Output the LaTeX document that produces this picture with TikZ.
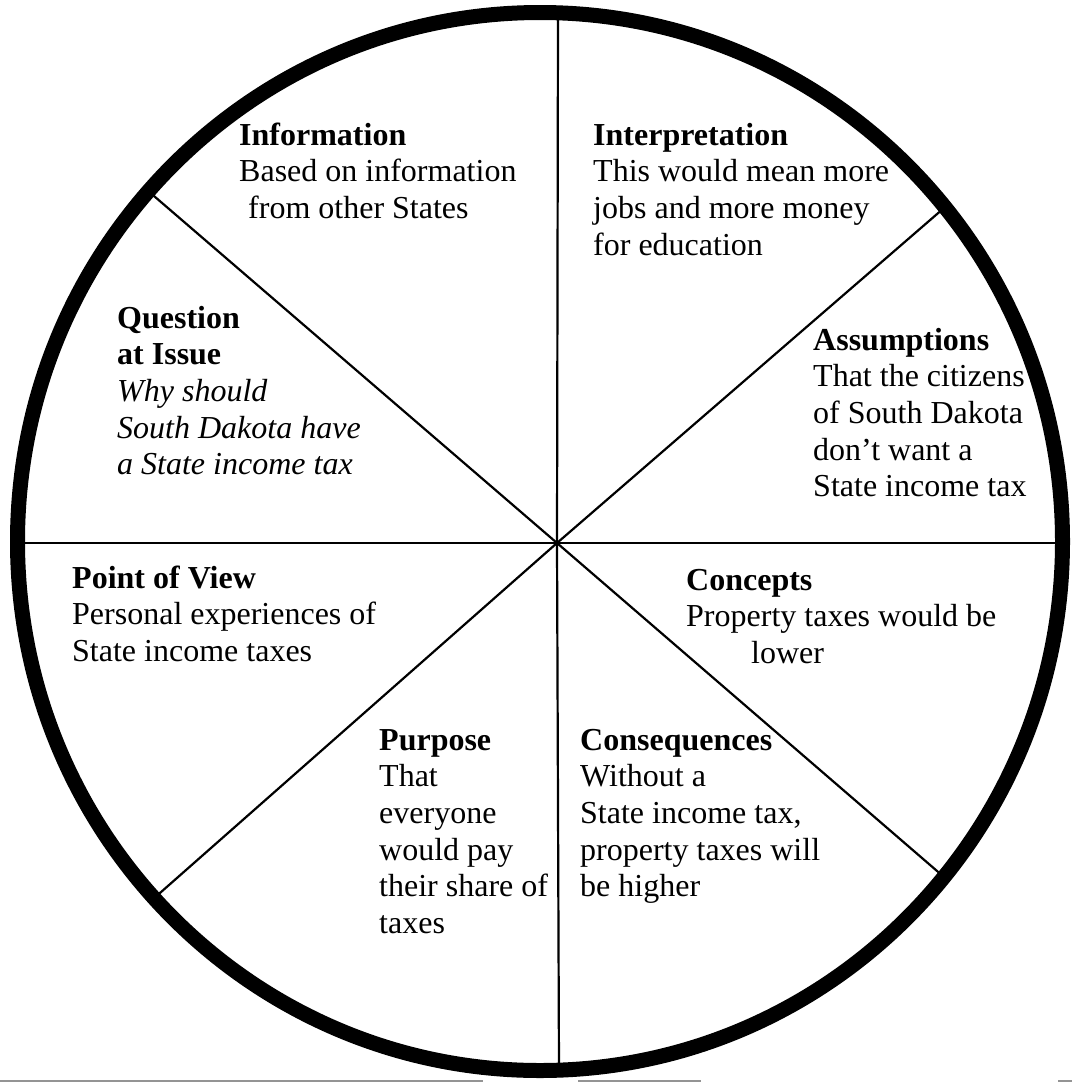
\documentclass[tikz,border=0pt]{standalone}
\usepackage{fontspec}
\setmainfont{Liberation Serif}
\begin{document}
\begin{tikzpicture}[x=1pt,y=-1pt,
  spoke/.style={line width=2.2pt, line cap=butt},
  rim/.style={line width=15pt},
  label/.style={anchor=base west, inner sep=0pt, align=left,
    font=\fontsize{32}{36.7}\selectfont},
  scan/.style={line width=1.5pt, draw=black!42}]
\useasboundingbox (0,0) rectangle (1072,1082);
% spoke end points
\coordinate (c) at (557,543);
\coordinate (pt) at (558,14);
\coordinate (pb) at (559,1070);
\coordinate (pl) at (18,543);
\coordinate (pr) at (1062,543);
\coordinate (pul) at (147,190);
\coordinate (pur) at (944,208);
\coordinate (pll) at (152,900);
\coordinate (plr) at (944,877);
\foreach \p in {pt,pb,pl,pr,pul,pur,pll,plr} \draw[spoke] (c) -- (\p);
% rim
\draw[rim] (540,541.5) ellipse [x radius=522.5, y radius=529];
% scan artefacts at the bottom edge
\coordinate (s1) at (0,1081); \coordinate (s2) at (483,1081);
\coordinate (s3) at (578,1081); \coordinate (s4) at (701,1081);
\coordinate (s5) at (1058,1081); \coordinate (s6) at (1072,1081);
\draw[scan] (s1) -- (s2); \draw[scan] (s3) -- (s4); \draw[scan] (s5) -- (s6);
% texts (anchor = baseline of the last line)
\node[label] (info) at (239,218.4) {\textbf{Information}\\Based on information\\\hspace*{9pt}from other States};
\node[label] (interp) at (593,255.1) {\textbf{Interpretation}\\This would mean more\\jobs and more money\\for education};
\node[label] (quest) at (117,474.8) {\textbf{Question}\\\textbf{at Issue}\\\textit{Why should}\\\textit{South Dakota have}\\\textit{a State income tax}};
\node[label] (assum) at (813,496.8) {\textbf{Assumptions}\\That the citizens\\of South Dakota\\don’t want a\\State income tax};
\node[label] (pov) at (72,661.4) {\textbf{Point of View}\\Personal experiences of\\State income taxes};
\node[label] (conc) at (686,663.4) {\textbf{Concepts}\\Property taxes would be\\\hspace*{65pt}lower};
\node[label] (purp) at (379,933.5) {\textbf{Purpose}\\That\\everyone\\would pay\\their share of\\taxes};
\node[label] (conseq) at (580,896.8) {\textbf{Consequences}\\Without a\\State income tax,\\property taxes will\\be higher};
\end{tikzpicture}
\end{document}
